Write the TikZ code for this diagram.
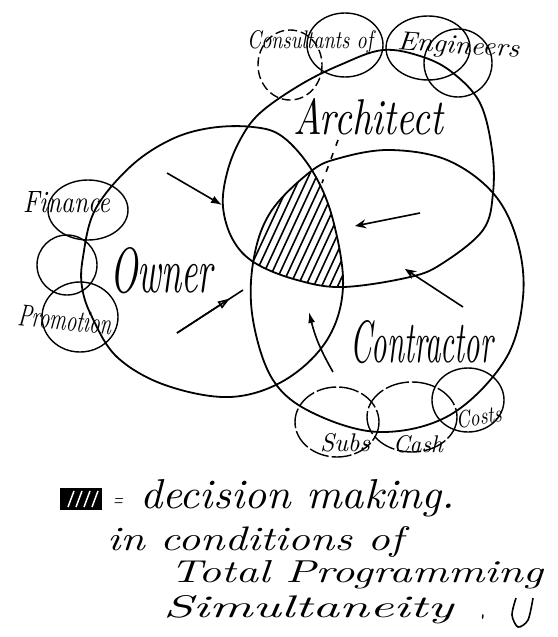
\documentclass[tikz,border=0pt]{standalone}
\usepackage{graphicx}
\usetikzlibrary{arrows.meta,calc}
\newcommand{\hw}[3]{\resizebox{#1}{#2}{\itshape #3}}
\begin{document}
\begin{tikzpicture}[x=1pt,y=-1pt,
  big/.style={line width=1.8pt, line join=round},
  bub/.style={line width=1.4pt},
  lab/.style={anchor=base west, inner sep=0pt, outer sep=0pt},
  arr/.style={line width=1.6pt}]
\useasboundingbox (0,0) rectangle (557,637);
\fill[white] (0,0) rectangle (557,637);

\def\ownerpath{plot[smooth cycle, tension=0.6] coordinates {(130,167) (170,140) (210,128) (253,127) (283,137) (313,172) (333,220) (343,287) (327,340) (285,380) (230,397) (165,385) (117,357) (92,317) (82,287) (83,257) (95,210)}}
\def\contrpath{plot[smooth cycle, tension=0.6] coordinates {(390,150) (447,160) (493,193) (517,240) (523,297) (505,360) (450,415) (380,432) (313,413) (273,380) (253,320) (253,263) (270,213) (310,172) (340,158)}}
\def\archpath{plot[smooth cycle, tension=0.6] coordinates {(383,50) (423,57) (453,73) (480,103) (492,150) (493,193) (483,230) (443,263) (410,277) (343,287) (297,280) (255,263) (233,240) (223,207) (227,173) (240,140) (260,113) (300,85) (340,65)}}

% hatched decision region
\begin{scope}
  \clip \ownerpath;
  \clip \contrpath;
  \clip \archpath;
  \foreach \x in {186,194,...,354} \draw[line width=1.6pt] (\x,320) -- ++(70,-151);
\end{scope}

% main circles
\draw[big] \ownerpath;
\draw[big] \contrpath;
\draw[big] \archpath;

% satellite bubbles
\draw[bub, dashed, dash pattern=on 9pt off 4pt] (290,65) ellipse [x radius=32, y radius=35];
\draw[bub] (345,45) ellipse [x radius=38, y radius=32];
\draw[bub] (428,48) ellipse [x radius=42, y radius=32];
\draw[bub] (458,63) ellipse [x radius=34, y radius=34];
\draw[bub] (88,210) ellipse [x radius=40, y radius=30];
\draw[bub] (67,265) ellipse [x radius=30, y radius=30];
\draw[bub] (80,317) ellipse [x radius=38, y radius=35];
\draw[bub, dash pattern=on 20pt off 3pt] (337,422) ellipse [x radius=42, y radius=35];
\draw[bub, dash pattern=on 24pt off 3pt] (412,417) ellipse [x radius=45, y radius=35];
\draw[bub] (468,400) ellipse [x radius=36, y radius=32];

% arrows
\coordinate (a1s) at (167,173); \coordinate (a1e) at (222,205);
\draw[arr,-{Latex[length=11pt,width=8pt]}] (a1s) -- (a1e);
\coordinate (a2s) at (177,333); \coordinate (a2e) at (243,290);
\draw[arr] (a2s) -- (a2e);
\draw[arr,-{Triangle[open,length=12pt,width=8pt]}] (a2s) -- ($(a2s)!0.8!(a2e)$);
\coordinate (a3s) at (420,213); \coordinate (a3e) at (355,226);
\draw[arr,-{Stealth[length=11pt,width=9pt]}] (a3s) -- (a3e);
\coordinate (a4s) at (463,307); \coordinate (a4e) at (405,269);
\draw[arr,-{Stealth[length=11pt,width=9pt]}] (a4s) -- (a4e);
\coordinate (a5s) at (333,372); \coordinate (a5e) at (309,312);
\draw[arr,-{Latex[length=11pt,width=7pt]}] (a5s) to[bend left=8] (a5e);
\coordinate (d1) at (338,140); \coordinate (d2) at (322,183);
\draw[arr, dash pattern=on 6pt off 8pt] (d1) -- (d2);

% labels
\node[lab] (architect) at (293,134) {\hw{150pt}{36pt}{Architect}};
\node[lab] (owner) at (110,292) {\hw{103pt}{45pt}{Owner}};
\node[lab] (contractor) at (350,362) {\hw{143pt}{42pt}{Contractor}};
\node[lab] (consult) at (247,48) {\hw{126pt}{18pt}{Consultants of}};
\node[lab, rotate=-4] (engineers) at (397,49) {\hw{122pt}{18pt}{Engineers}};
\node[lab] (finance) at (23,212) {\hw{87pt}{21pt}{Finance}};
\node[lab, rotate=-6] (promotion) at (17,325) {\hw{94pt}{21pt}{Promotion}};
\node[lab] (subs) at (320,451) {\hw{50pt}{18pt}{Subs}};
\node[lab] (cash) at (393,452) {\hw{50pt}{17pt}{Cash}};
\node[lab, rotate=8] (costs) at (457,428) {\hw{46pt}{17pt}{Costs}};

% legend
\fill (60,488) rectangle (102,510);
\foreach \x in {68,76,84,92} \draw[white, line width=1.5pt] (\x,507) -- (\x+6,491);
\node[lab] (eq) at (113,506) {\hw{10pt}{8pt}{=}};
\node[lab] (leg1) at (140,508) {\hw{315pt}{29pt}{decision making.}};
\node[lab] (leg2) at (107,550) {\hw{296pt}{24pt}{in conditions of}};
\node[lab] (leg3) at (170,582) {\hw{373pt}{22pt}{Total Programming}};
\node[lab] (leg4) at (163,617) {\hw{290pt}{22pt}{Simultaneity}};
\node[lab] (leg5) at (480,619) {\hw{5pt}{5pt}{.}};
\draw[arr] plot[smooth] coordinates {(516,598) (512,615) (518,627) (528,620) (533,598)};
\end{tikzpicture}
\end{document}
